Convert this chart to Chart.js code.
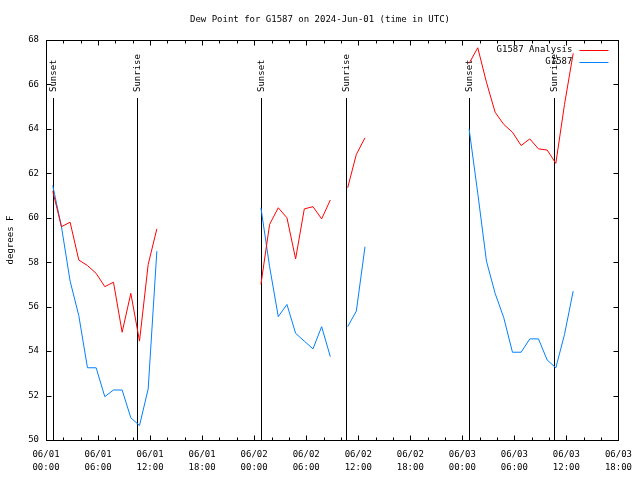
<!DOCTYPE html>
<html>
<head>
<meta charset="utf-8">
<script src="https://cdn.jsdelivr.net/npm/chart.js@4.4.1/dist/chart.umd.min.js"></script>
<style>
  html, body { margin: 0; padding: 0; background: #fff; }
</style>
</head>
<body>
<canvas id="chart" width="640" height="480"></canvas>
<script>
// hours after 06/01 00:00 UTC; the whole numbers are breaks between the evenings
const obsHours = [
  0.78, 1.78, 2.78, 3.78, 4.78, 5.78, 6.78, 7.78, 8.78, 9.78, 10.78, 11.78, 12.78,
  18,
  24.78, 25.78, 26.78, 27.78, 28.78, 29.78, 30.78, 31.78, 32.78,
  33.78,
  34.78, 35.78, 36.78,
  42,
  48.78, 49.78, 50.78, 51.78, 52.78, 53.78, 54.78, 55.78, 56.78, 57.78, 58.78, 59.78, 60.78
]

const analysisF = [
  61.2, 59.6, 59.8, 58.1, 57.85, 57.5, 56.9, 57.1, 54.85, 56.6, 54.45, 57.9, 59.5,
  null,
  57.0, 59.7, 60.45, 60.0, 58.15, 60.4, 60.5, 59.95, 60.8,
  null,
  61.35, 62.85, 63.6,
  null,
  66.95, 67.65, 66.1, 64.75, 64.2, 63.85, 63.25, 63.55, 63.1, 63.05, 62.45, 65.1, 67.4
]

const stationF = [
  61.45, 59.6, 57.15, 55.6, 53.25, 53.25, 51.95, 52.25, 52.25, 51.0, 50.65, 52.3, 58.5,
  null,
  60.45, 57.8, 55.55, 56.1, 54.8, 54.45, 54.1, 55.1, 53.75,
  null,
  55.1, 55.8, 58.7,
  null,
  64.0, 61.1, 58.05, 56.6, 55.5, 53.95, 53.95, 54.55, 54.55, 53.6, 53.25, 54.75, 56.7
]

const sunLabels = ["Sunset", "Sunrise", "Sunset", "Sunrise", "Sunset", "Sunrise"]
const sunHours = [0.8, 10.5, 24.8, 34.55, 48.8, 58.55]

const dayLabels = ["06/01", "06/02", "06/03"]
const hourLabels = ["00:00", "06:00", "12:00", "18:00"]

const FONT_FAMILY = "'DejaVu Sans Mono', 'Liberation Mono', monospace"
const FONT = "9px " + FONT_FAMILY

// gnuplot look: closed border, inward ticks, sun lines, legend inside top right
const gnuplotFrame = {
    id: "gnuplotFrame",
    beforeDatasetsDraw(chart) {
        const {ctx, chartArea: a, scales: {x}} = chart
        ctx.save()
        ctx.strokeStyle = "#000"
        ctx.fillStyle = "#000"
        ctx.lineWidth = 1
        ctx.font = FONT
        sunHours.forEach((h, i) => {
            const px = Math.round(x.getPixelForValue(h)) + 0.5
            ctx.beginPath()
            ctx.moveTo(px, a.top + 58)
            ctx.lineTo(px, a.bottom)
            ctx.stroke()
            ctx.save()
            ctx.translate(px, a.top + 52)
            ctx.rotate(-Math.PI / 2)
            ctx.textAlign = "left"
            ctx.textBaseline = "middle"
            ctx.fillText(sunLabels[i], 0, 0)
            ctx.restore()
        })
        ctx.restore()
    },
    afterDraw(chart) {
        const {ctx, chartArea: a, scales: {x, y}} = chart
        ctx.save()
        ctx.strokeStyle = "#000"
        ctx.lineWidth = 1
        const L = Math.round(a.left) + 0.5
        const R = Math.round(a.right) + 0.5
        const T = Math.round(a.top) + 0.5
        const B = Math.round(a.bottom) + 0.5
        ctx.strokeRect(L, T, R - L, B - T)

        ctx.beginPath()
        for (let h = 0; h <= 66; h += 2) {
            const px = Math.round(x.getPixelForValue(h)) + 0.5
            const len = h % 6 === 0 ? 5 : 3
            ctx.moveTo(px, B); ctx.lineTo(px, B - len)
            ctx.moveTo(px, T); ctx.lineTo(px, T + len)
        }
        for (let v = 50; v <= 68; v += 2) {
            const py = Math.round(y.getPixelForValue(v)) + 0.5
            ctx.moveTo(L, py); ctx.lineTo(L + 5, py)
            ctx.moveTo(R, py); ctx.lineTo(R - 5, py)
        }
        ctx.stroke()

        ctx.font = FONT
        ctx.textAlign = "right"
        ctx.textBaseline = "middle"
        chart.data.datasets.forEach((ds, i) => {
            const ly = a.top + 10 + i * 11.5
            ctx.fillStyle = "#000"
            ctx.fillText(ds.label, a.right - 46, ly)
            ctx.strokeStyle = ds.borderColor
            ctx.beginPath()
            ctx.moveTo(a.right - 39, Math.round(ly) + 0.5)
            ctx.lineTo(a.right - 10, Math.round(ly) + 0.5)
            ctx.stroke()
        })
        ctx.restore()
    }
}

const ctx = document.getElementById("chart")

new Chart(ctx, {
    type: "line",
    data: {
        datasets: [
            {
                label: "G1587 Analysis",
                data: obsHours.map((h, i) => ({x: h, y: analysisF[i]})),
                borderColor: "#ff0000",
                borderWidth: 1,
                pointRadius: 0,
                tension: 0,
                spanGaps: false
            },
            {
                label: "G1587",
                data: obsHours.map((h, i) => ({x: h, y: stationF[i]})),
                borderColor: "#0080ff",
                borderWidth: 1,
                pointRadius: 0,
                tension: 0,
                spanGaps: false
            }
        ]
    },
    options: {
        responsive: false,
        animation: false,
        devicePixelRatio: 1,
        layout: {padding: 0},
        plugins: {
            legend: {display: false},
            tooltip: {enabled: false},
            title: {
                display: true,
                text: "Dew Point for G1587 on 2024-Jun-01 (time in UTC)",
                color: "#000",
                font: {family: FONT_FAMILY, size: 9, weight: "normal", lineHeight: 1.2},
                padding: {top: 14, bottom: 15.2}
            }
        },
        scales: {
            x: {
                type: "linear",
                min: 0,
                max: 66,
                grid: {display: false, drawTicks: false, tickLength: 0},
                border: {display: false},
                ticks: {
                    stepSize: 6,
                    autoSkip: false,
                    maxRotation: 0,
                    padding: 8,
                    color: "#000",
                    font: {family: FONT_FAMILY, size: 9, lineHeight: 1.45},
                    callback: (v) => [dayLabels[Math.floor(v / 24)], hourLabels[(v % 24) / 6]]
                },
                afterFit: (scale) => { scale.height = 40 }
            },
            y: {
                min: 50,
                max: 68,
                grid: {display: false, drawTicks: false, tickLength: 0},
                border: {display: false},
                ticks: {
                    stepSize: 2,
                    padding: 7,
                    color: "#000",
                    font: {family: FONT_FAMILY, size: 9}
                },
                title: {
                    display: true,
                    text: "degrees F",
                    color: "#000",
                    font: {family: FONT_FAMILY, size: 9},
                    padding: {top: 5, bottom: 0}
                },
                afterFit: (scale) => { scale.width = 46 }
            },
            yRight: {
                position: "right",
                display: true,
                grid: {display: false, drawTicks: false},
                border: {display: false},
                ticks: {display: false},
                afterFit: (scale) => { scale.width = 20 }
            }
        }
    },
    plugins: [gnuplotFrame]
})
</script>
</body>
</html>
